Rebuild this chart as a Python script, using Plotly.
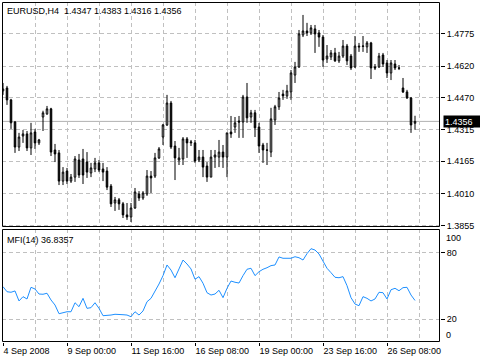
import plotly.graph_objects as go

symbol = "EURUSD"
timeframe = "H4"

opens = [1.4502, 1.4516, 1.4459, 1.4353, 1.4233, 1.4286, 1.4296, 1.4229, 1.4305, 1.4253,
         1.4377, 1.4392, 1.4416, 1.4219, 1.4205, 1.4070, 1.4118, 1.4070, 1.4089, 1.4171,
         1.4176, 1.4161, 1.4109, 1.4128, 1.4157, 1.4128, 1.4118, 1.4046, 1.3965, 1.3980,
         1.3961, 1.3908, 1.3898, 1.3941, 1.4008, 1.3989, 1.4008, 1.4094, 1.4094, 1.4181,
         1.4281, 1.4339, 1.4444, 1.4238, 1.4171, 1.4176, 1.4272, 1.4253, 1.4253, 1.4171,
         1.4185, 1.4142, 1.4089, 1.4185, 1.4185, 1.4209, 1.4185, 1.4305, 1.4329, 1.4358,
         1.4353, 1.4473, 1.4377, 1.4397, 1.4329, 1.4243, 1.4219, 1.4209, 1.4363, 1.4426,
         1.4487, 1.4478, 1.4497, 1.4578, 1.4617, 1.4770, 1.4789, 1.4780, 1.4799, 1.4780,
         1.4760, 1.4655, 1.4665, 1.4684, 1.4646, 1.4669, 1.4717, 1.4669, 1.4617, 1.4717,
         1.4715, 1.4713, 1.4732, 1.4617, 1.4617, 1.4674, 1.4636, 1.4588, 1.4631, 1.4612,
         1.4516, 1.4497, 1.4468, 1.4347]
highs = [1.4540, 1.4526, 1.4464, 1.4358, 1.4301, 1.4315, 1.4310, 1.4349, 1.4320, 1.4272,
         1.4407, 1.4430, 1.4421, 1.4248, 1.4219, 1.4137, 1.4133, 1.4104, 1.4190, 1.4200,
         1.4224, 1.4209, 1.4157, 1.4181, 1.4171, 1.4157, 1.4137, 1.4056, 1.3994, 1.3989,
         1.3970, 1.3965, 1.3965, 1.4037, 1.4022, 1.4022, 1.4123, 1.4118, 1.4205, 1.4233,
         1.4344, 1.4483, 1.4454, 1.4262, 1.4229, 1.4281, 1.4281, 1.4267, 1.4267, 1.4219,
         1.4219, 1.4161, 1.4219, 1.4219, 1.4267, 1.4243, 1.4301, 1.4382, 1.4377, 1.4382,
         1.4483, 1.4540, 1.4411, 1.4411, 1.4349, 1.4253, 1.4253, 1.4421, 1.4435, 1.4497,
         1.4507, 1.4531, 1.4602, 1.4641, 1.4794, 1.4866, 1.4828, 1.4818, 1.4818, 1.4794,
         1.4770, 1.4722, 1.4698, 1.4708, 1.4689, 1.4746, 1.4727, 1.4679, 1.4765, 1.4732,
         1.4765, 1.4741, 1.4737, 1.4631, 1.4684, 1.4684, 1.4650, 1.4650, 1.4650, 1.4626,
         1.4564, 1.4507, 1.4473, 1.4383]
lows = [1.4483, 1.4435, 1.4320, 1.4205, 1.4214, 1.4253, 1.4214, 1.4195, 1.4224, 1.4243,
        1.4310, 1.4387, 1.4190, 1.4161, 1.4051, 1.4051, 1.4056, 1.4061, 1.4066, 1.4085,
        1.4056, 1.4085, 1.4089, 1.4113, 1.4113, 1.4070, 1.4027, 1.3946, 1.3927, 1.3932,
        1.3893, 1.3884, 1.3874, 1.3937, 1.3975, 1.3980, 1.3999, 1.4013, 1.4085, 1.4176,
        1.4243, 1.4334, 1.4224, 1.4075, 1.4147, 1.4147, 1.4181, 1.4238, 1.4157, 1.4161,
        1.4089, 1.4066, 1.4089, 1.4133, 1.4137, 1.4133, 1.4089, 1.4277, 1.4301, 1.4277,
        1.4277, 1.4349, 1.4349, 1.4281, 1.4205, 1.4157, 1.4147, 1.4185, 1.4339, 1.4411,
        1.4459, 1.4464, 1.4459, 1.4540, 1.4612, 1.4760, 1.4765, 1.4770, 1.4684, 1.4713,
        1.4617, 1.4636, 1.4650, 1.4641, 1.4636, 1.4660, 1.4626, 1.4602, 1.4612, 1.4689,
        1.4689, 1.4684, 1.4559, 1.4602, 1.4612, 1.4617, 1.4564, 1.4554, 1.4602, 1.4602,
        1.4492, 1.4464, 1.4301, 1.4316]
closes = [1.4511, 1.4459, 1.4349, 1.4233, 1.4281, 1.4296, 1.4229, 1.4301, 1.4253, 1.4267,
          1.4397, 1.4416, 1.4209, 1.4200, 1.4070, 1.4113, 1.4070, 1.4089, 1.4176, 1.4099,
          1.4099, 1.4113, 1.4133, 1.4157, 1.4123, 1.4113, 1.4041, 1.3961, 1.3980, 1.3961,
          1.3908, 1.3898, 1.3941, 1.4018, 1.3989, 1.4013, 1.4094, 1.4085, 1.4181, 1.4224,
          1.4339, 1.4444, 1.4233, 1.4181, 1.4181, 1.4272, 1.4253, 1.4257, 1.4166, 1.4185,
          1.4137, 1.4089, 1.4185, 1.4195, 1.4209, 1.4185, 1.4301, 1.4296, 1.4349, 1.4353,
          1.4473, 1.4373, 1.4397, 1.4325, 1.4238, 1.4219, 1.4218, 1.4368, 1.4426, 1.4468,
          1.4478, 1.4502, 1.4588, 1.4617, 1.4775, 1.4789, 1.4780, 1.4804, 1.4775, 1.4760,
          1.4650, 1.4669, 1.4684, 1.4646, 1.4669, 1.4717, 1.4646, 1.4612, 1.4717, 1.4713,
          1.4717, 1.4732, 1.4612, 1.4612, 1.4669, 1.4631, 1.4588, 1.4636, 1.4612, 1.4611,
          1.4497, 1.4468, 1.4339, 1.4356]

mfi = [49.4, 44.8, 44.3, 45.5, 36.4, 40.3, 38.2, 48.8, 47.3, 42.7,
       42.5, 43.4, 37.3, 32.7, 24.8, 25.5, 26.6, 26.6, 34.8, 31.2,
       38.8, 29.7, 30.3, 34.8, 29.7, 23.0, 23.0, 23.6, 24.3, 24.3,
       23.9, 23.6, 22.1, 26.6, 23.6, 27.3, 35.7, 38.8, 44.8, 51.8,
       59.4, 69.1, 64.5, 57.5, 65.5, 73.6, 70.0, 65.5, 56.1, 58.5,
       52.5, 43.9, 41.8, 42.7, 46.1, 39.4, 47.9, 54.5, 53.4, 52.7,
       59.4, 65.2, 66.1, 59.4, 63.0, 65.2, 66.6, 68.5, 69.1, 76.4,
       75.2, 75.2, 75.2, 76.6, 75.7, 73.6, 79.4, 83.9, 82.7, 79.1,
       72.7, 66.1, 62.1, 57.9, 57.5, 58.5, 50.3, 39.4, 33.6, 32.1,
       40.3, 38.8, 36.4, 38.2, 44.3, 43.9, 38.2, 46.6, 47.9, 45.7,
       48.5, 48.8, 41.8, 36.8357]
mfi_period = 14

date_tick_bars = [0, 16, 32, 48, 64, 80, 96]
date_tick_labels = ["4 Sep 2008", "9 Sep 00:00", "11 Sep 16:00", "16 Sep 08:00",
                    "19 Sep 00:00", "23 Sep 16:00", "26 Sep 08:00"]
price_tick_labels = ["1.3855", "1.4010", "1.4165", "1.4315", "1.4470", "1.4620", "1.4775"]
mfi_tick_values = [20, 80]
mfi_edge_labels = [(100, 93.6), (0, 5.5)]  # label text, where MT4 draws it

bars = list(range(len(opens)))
FONT = "Liberation Sans, Arial, sans-serif"
GRID = "#c0c0c0"
DASH = "4px,3px"

fig = go.Figure()
fig.add_trace(go.Candlestick(
    x=bars, open=opens, high=highs, low=lows, close=closes,
    xaxis="x", yaxis="y",
    increasing=dict(line=dict(color="black", width=1), fillcolor="white"),
    decreasing=dict(line=dict(color="black", width=1), fillcolor="black"),
    whiskerwidth=0, showlegend=False, hoverinfo="skip",
))
fig.add_trace(go.Scatter(
    x=bars, y=mfi, mode="lines", xaxis="x", yaxis="y2",
    line=dict(color="#1e90ff", width=1), showlegend=False, hoverinfo="skip",
))

# plot area: 438 x 340 px; frames drawn on half-pixel centres for crisp 1px lines
PW, PH = 438.0, 340.0
main_dom = [(342 - 227) / PH, 1.0]
sub_dom = [0.0, (342 - 229) / PH]
hx, hy = 0.5 / PW, 0.5 / PH

shapes = [
    dict(type="line", xref="paper", x0=0, x1=1, yref="y", y0=closes[-1], y1=closes[-1],
         line=dict(color="#b0b0b0", width=1), layer="below"),
    dict(type="rect", xref="paper", yref="paper", x0=hx, x1=1 - hx,
         y0=main_dom[0] + hy, y1=main_dom[1] - hy, line=dict(color="black", width=1)),
    dict(type="rect", xref="paper", yref="paper", x0=hx, x1=1 - hx,
         y0=sub_dom[0] + hy, y1=sub_dom[1] - hy, line=dict(color="black", width=1)),
]

header = "%s,%s\u00a0 %.4f %.4f %.4f %.4f" % (symbol, timeframe, opens[-1], highs[-1], lows[-1], closes[-1])
annotations = [
    dict(text=header, xref="paper", yref="paper", x=0, y=1, xanchor="left", yanchor="top",
         xshift=3, yshift=-2, showarrow=False, font=dict(family=FONT, size=9, color="black")),
    dict(text="MFI(%d) %.4f" % (mfi_period, mfi[-1]), xref="paper", yref="paper", x=0, y=sub_dom[1],
         xanchor="left", yanchor="top", xshift=3, yshift=-4, showarrow=False,
         font=dict(family=FONT, size=9, color="black")),
    dict(text="%.4f" % closes[-1], xref="paper", yref="y", x=1, y=closes[-1], xanchor="left",
         yanchor="middle", xshift=3, showarrow=False, bgcolor="black", borderpad=1,
         width=35, height=9, align="left", font=dict(family=FONT, size=9, color="white")),
]
for lbl, pos in mfi_edge_labels:
    annotations.append(dict(text=str(lbl), xref="paper", yref="y2", x=1, y=pos, xanchor="left",
                            yanchor="middle", xshift=4, showarrow=False,
                            font=dict(family=FONT, size=9, color="black")))

fig.update_layout(
    width=480, height=360,
    margin=dict(l=2, r=40, t=2, b=18, autoexpand=False),
    paper_bgcolor="white", plot_bgcolor="white",
    font=dict(family=FONT, size=9, color="black"),
    boxgap=0.45,
    xaxis=dict(
        domain=[0, 1], anchor="y2", range=[-0.25, 109.25],
        tickmode="array", tickvals=date_tick_bars, ticktext=date_tick_labels,
        ticklabelposition="outside right",
        ticks="outside", ticklen=3, tickcolor="black",
        showgrid=True, gridcolor=GRID, griddash=DASH, gridwidth=1,
        minor=dict(tickmode="linear", tick0=0, dtick=8, showgrid=True, gridcolor=GRID,
                   griddash=DASH, gridwidth=1, ticks=""),
        zeroline=False, showline=False, rangeslider=dict(visible=False),
        tickfont=dict(family=FONT, size=9, color="black"),
    ),
    yaxis=dict(
        domain=main_dom, anchor="x", side="right", range=[1.3850, 1.4928],
        tickmode="array", tickvals=[float(t) for t in price_tick_labels], ticktext=price_tick_labels,
        ticks="outside", ticklen=4, tickcolor="black",
        showgrid=True, gridcolor=GRID, griddash=DASH, gridwidth=1,
        zeroline=False, showline=False,
        tickfont=dict(family=FONT, size=9, color="black"),
    ),
    yaxis2=dict(
        domain=sub_dom, anchor="x", side="right", range=[-0.9, 101.8],
        tickmode="array", tickvals=mfi_tick_values, ticktext=[str(v) for v in mfi_tick_values],
        ticks="outside", ticklen=4, tickcolor="black",
        showgrid=True, gridcolor=GRID, griddash=DASH, gridwidth=1,
        zeroline=False, showline=False,
        tickfont=dict(family=FONT, size=9, color="black"),
    ),
    shapes=shapes, annotations=annotations,
)

fig.write_html("out.html")
